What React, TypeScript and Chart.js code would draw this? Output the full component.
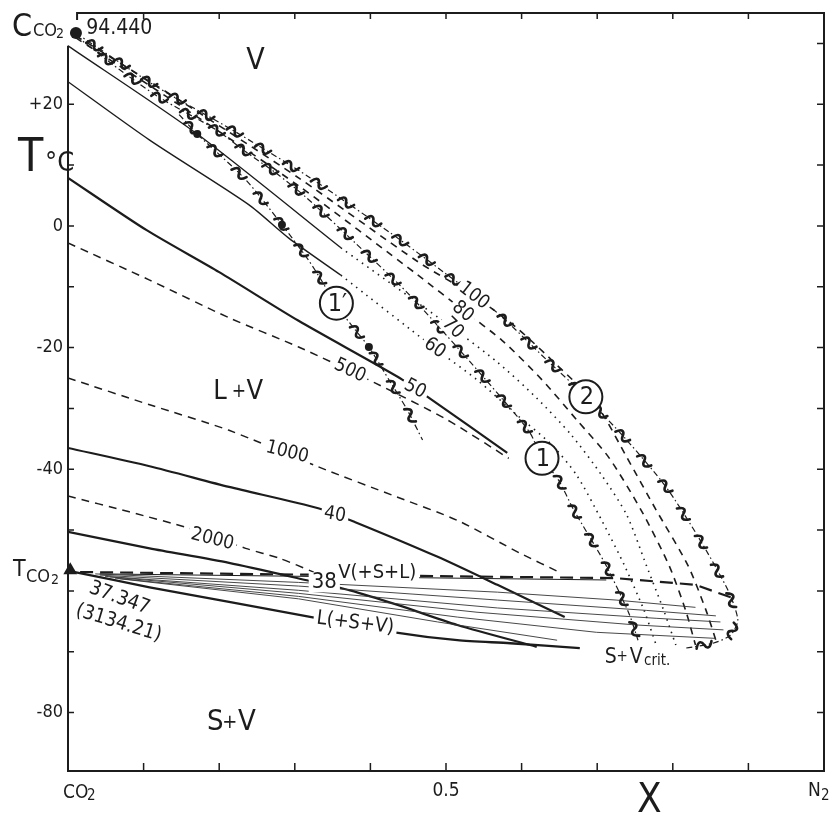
import React, { useEffect, useRef } from "react";
import { Chart, registerables } from "chart.js";
Chart.register(...registerables);

type P = [number, number];

// ---- axes ----
const X_MIN = 0;
const X_MAX = 1;
const T_MIN = -89.6;
const T_MAX = 35;
const yTickValues = [30, 20, 10, 0, -10, -20, -30, -40, -50, -60, -70, -80];
const yLabelValues = [20, 0, -20, -40, -80];
const yLabelTexts = ["+20", "0", "-20", "-40", "-80"];
const xTickValues = [0.1, 0.2, 0.3, 0.4, 0.5, 0.6, 0.7, 0.8, 0.9];

// ---- curves (X mole fraction N2, T in °C) ----
const curve2: P[] = [[0.0105, 31.7], [0.117, 22.9], [0.217, 15.8], [0.318, 8.1], [0.427, -1.2], [0.498, -7.7], [0.568, -14.3], [0.633, -22.0], [0.685, -28.1], [0.739, -35.2], [0.791, -42.9], [0.834, -51.2], [0.873, -59.9], [0.886, -64.8], [0.876, -67.3], [0.853, -68.6], [0.817, -69.4]];
const curve1: P[] = [[0.0105, 31.25], [0.068, 25.7], [0.121, 21.1], [0.196, 15.8], [0.235, 12.2], [0.275, 8.7], [0.314, 4.8], [0.380, -2.8], [0.449, -11.0], [0.518, -20.4], [0.568, -27.5], [0.611, -34.0], [0.627, -38.2], [0.649, -41.8], [0.669, -46.7], [0.710, -55.4], [0.742, -63.7], [0.754, -68.1]];
const curve1p: P[] = [[0.147, 18.3], [0.171, 15.1], [0.235, 7.6], [0.283, 0.2], [0.318, -5.6], [0.335, -8.9], [0.353, -12.7], [0.380, -17.1], [0.398, -19.9], [0.427, -25.8], [0.449, -30.3], [0.469, -35.2]];
const iso100: P[] = [[0.0105, 31.25], [0.147, 20.7], [0.305, 7.9], [0.463, -5.9], [0.537, -11.5], [0.594, -16.8], [0.647, -22.9], [0.699, -29.4], [0.739, -38.0], [0.778, -46.7], [0.820, -55.8], [0.844, -63.2], [0.857, -68.1]];
const iso80: P[] = [[0.0105, 30.9], [0.147, 19.9], [0.305, 6.6], [0.463, -8.1], [0.522, -13.8], [0.574, -18.8], [0.627, -25.3], [0.673, -31.9], [0.715, -38.0], [0.758, -46.7], [0.795, -55.8], [0.817, -63.2], [0.830, -68.9]];
const iso70Solid: P[] = [[0, 29.6], [0.171, 15.1], [0.361, -3.6]];
const iso70Dotted: P[] = [[0.361, -3.6], [0.509, -16.8], [0.568, -22.4], [0.620, -28.3], [0.666, -34.4], [0.706, -41.0], [0.739, -47.5], [0.765, -55.8], [0.788, -63.2], [0.804, -68.9]];
const iso60Solid: P[] = [[0, 23.7], [0.108, 14.1], [0.239, 3.5], [0.292, -2.0], [0.361, -8.1]];
const iso60Dotted: P[] = [[0.361, -8.1], [0.485, -20.1], [0.541, -25.3], [0.594, -31.1], [0.640, -36.0], [0.673, -41.0], [0.706, -48.4], [0.736, -55.8], [0.762, -63.2], [0.778, -68.9]];
const iso50: P[] = [[0, 7.9], [0.104, -0.7], [0.200, -7.6], [0.305, -15.6], [0.436, -24.8], [0.478, -28.3], [0.581, -37.3]];
const iso500: P[] = [[0, -2.8], [0.108, -8.9], [0.213, -15.1], [0.305, -19.9], [0.406, -25.8], [0.502, -31.9], [0.583, -38.2]];
const iso1000: P[] = [[0, -25.0], [0.108, -29.4], [0.213, -33.6], [0.331, -39.6], [0.436, -44.6], [0.515, -48.4], [0.598, -53.8], [0.653, -57.1]];
const iso40: P[] = [[0, -36.5], [0.108, -39.5], [0.213, -42.9], [0.331, -46.4], [0.380, -48.7], [0.489, -54.4], [0.568, -59.0], [0.657, -64.3]];
const iso2000: P[] = [[0, -44.4], [0.081, -47.0], [0.160, -49.7], [0.235, -53.0], [0.279, -54.6], [0.325, -56.9]];
const iso38: P[] = [[0, -50.3], [0.108, -53.0], [0.213, -55.4], [0.314, -58.2], [0.373, -59.9], [0.436, -62.3], [0.515, -65.6], [0.620, -69.2]];
const threePhaseV: P[] = [[0.016, -56.9], [0.725, -57.9], [0.830, -59.0], [0.880, -61.2]];
const threePhaseVThin: P[] = [[0.042, -57.2], [0.712, -58.2]];
const threePhaseL: P[] = [[0.009, -56.9], [0.108, -59.4], [0.213, -61.8], [0.331, -64.5], [0.432, -66.8], [0.515, -68.1], [0.585, -68.6], [0.677, -69.4]];
const tie1: P[] = [[0.036, -57.2], [0.305, -58.6], [0.568, -60.2], [0.725, -61.5], [0.830, -62.7]];
const tie2: P[] = [[0.042, -57.4], [0.305, -59.2], [0.568, -61.5], [0.765, -63.2], [0.857, -64.1]];
const tie3: P[] = [[0.049, -57.6], [0.305, -59.9], [0.568, -62.8], [0.778, -64.5], [0.863, -65.1]];
const tie4: P[] = [[0.055, -57.7], [0.305, -60.4], [0.541, -63.5], [0.752, -65.6], [0.867, -66.4]];
const tie5: P[] = [[0.062, -57.9], [0.305, -60.9], [0.515, -64.3], [0.699, -66.8], [0.857, -67.8]];
const tie6: P[] = [[0.068, -58.0], [0.305, -61.3], [0.489, -65.1], [0.647, -68.1]];
const criticalPoint: P[] = [[0.0105, 31.7]];
const triplePoint: P[] = [[0.003, -56.6]];
const experimentPoints: P[] = [[0.171, 15.1], [0.283, 0.2], [0.398, -19.9]];

const INK = "#1c1c1c";
const FONT = '"DejaVu Sans Condensed","Liberation Sans Narrow","DejaVu Sans",sans-serif';

type Lbl = { t: string; x: number; y: number; s: number; r: number; bg: boolean };
const curveLabels: Lbl[] = [
  { t: "100", x: 0.537, y: -11.5, s: 19, r: 38, bg: true },
  { t: "80", x: 0.522, y: -14.1, s: 19, r: 40, bg: true },
  { t: "70", x: 0.509, y: -16.8, s: 19, r: 45, bg: true },
  { t: "60", x: 0.485, y: -20.1, s: 19, r: 35, bg: true },
  { t: "500", x: 0.373, y: -23.8, s: 19, r: 25, bg: true },
  { t: "50", x: 0.459, y: -26.8, s: 19, r: 28, bg: true },
  { t: "1000", x: 0.290, y: -37.2, s: 19, r: 14, bg: true },
  { t: "40", x: 0.353, y: -47.5, s: 19, r: 10, bg: true },
  { t: "2000", x: 0.191, y: -51.5, s: 19, r: 14, bg: true },
  { t: "38", x: 0.339, y: -58.6, s: 22, r: 0, bg: true },
  { t: "V(+S+L)", x: 0.409, y: -57.1, s: 20, r: 0, bg: true },
  { t: "L(+S+V)", x: 0.380, y: -65.3, s: 20, r: 7, bg: true },
  { t: "37.347", x: 0.068, y: -61.2, s: 20, r: 20, bg: false },
  { t: "(3134.21)", x: 0.067, y: -65.3, s: 20, r: 17, bg: false },
];
const circleLabels = [
  { t: "1\u2032", x: 0.355, y: -12.7 },
  { t: "1", x: 0.627, y: -38.2 },
  { t: "2", x: 0.685, y: -28.1 },
];

function tilde(ctx: CanvasRenderingContext2D, x: number, y: number, a: number) {
  ctx.save();
  ctx.translate(x, y);
  ctx.rotate(a);
  ctx.beginPath();
  ctx.moveTo(-8, 2.5);
  ctx.bezierCurveTo(-5, -6, -1.5, -3.5, 0, 0);
  ctx.bezierCurveTo(1.5, 3.5, 5, 6, 8, -2.5);
  ctx.lineWidth = 2.6;
  ctx.lineCap = "round";
  ctx.strokeStyle = INK;
  ctx.stroke();
  ctx.restore();
}

function drawTildes(ctx: CanvasRenderingContext2D, pts: { x: number; y: number }[], offset: number, spacing: number) {
  let next = offset;
  let travelled = 0;
  for (let i = 0; i < pts.length - 1; i++) {
    const a = pts[i], b = pts[i + 1];
    const L = Math.hypot(b.x - a.x, b.y - a.y);
    const ang = Math.atan2(b.y - a.y, b.x - a.x);
    while (next <= travelled + L) {
      const t = (next - travelled) / L;
      tilde(ctx, a.x + (b.x - a.x) * t, a.y + (b.y - a.y) * t, ang);
      next += spacing;
    }
    travelled += L;
  }
}

function text(ctx: CanvasRenderingContext2D, s: string, x: number, y: number, size: number, opt: { r?: number; bg?: boolean; align?: CanvasTextAlign; base?: CanvasTextBaseline } = {}) {
  ctx.save();
  ctx.translate(x, y);
  if (opt.r) ctx.rotate((opt.r * Math.PI) / 180);
  ctx.font = `${size}px ${FONT}`;
  ctx.textAlign = opt.align || "center";
  ctx.textBaseline = opt.base || "middle";
  if (opt.bg) {
    const w = ctx.measureText(s).width;
    ctx.fillStyle = "#fff";
    ctx.fillRect(-w / 2 - 3, -size * 0.45, w + 6, size * 0.9);
  }
  ctx.fillStyle = INK;
  ctx.fillText(s, 0, 0);
  ctx.restore();
}

const decor = {
  id: "decor",
  beforeDraw(chart: any) {
    const ctx = chart.ctx;
    ctx.save();
    ctx.fillStyle = "#fff";
    ctx.fillRect(0, 0, chart.width, chart.height);
    ctx.restore();
  },
  afterDatasetsDraw(chart: any) {
    const ctx: CanvasRenderingContext2D = chart.ctx;
    const xs = chart.scales.x, ys = chart.scales.y;
    const px = (v: number) => xs.getPixelForValue(v);
    const py = (v: number) => ys.getPixelForValue(v);
    chart.data.datasets.forEach((ds: any, i: number) => {
      if (!ds.wavy) return;
      const pts = chart.getDatasetMeta(i).data.map((p: any) => ({ x: p.x, y: p.y }));
      drawTildes(ctx, pts, ds.wavyOffset, 33);
    });
    for (const l of curveLabels) text(ctx, l.t, px(l.x), py(l.y), l.s, { r: l.r, bg: l.bg });
    for (const c of circleLabels) {
      const cx = px(c.x), cy = py(c.y);
      ctx.save();
      ctx.beginPath();
      ctx.arc(cx, cy, 16.5, 0, Math.PI * 2);
      ctx.fillStyle = "#fff";
      ctx.fill();
      ctx.lineWidth = 2;
      ctx.strokeStyle = INK;
      ctx.stroke();
      ctx.restore();
      text(ctx, c.t, cx + 1, cy + 1, 25);
    }
    // phase region labels
    text(ctx, "V", px(0.248), py(27.1), 30);
    text(ctx, "L", px(0.192), py(-27.3), 27, { align: "left" });
    text(ctx, "+", px(0.226), py(-27.3), 19);
    text(ctx, "V", px(0.236), py(-27.3), 27, { align: "left" });
    text(ctx, "S", px(0.184), py(-81.6), 29, { align: "left" });
    text(ctx, "+", px(0.214), py(-81.6), 20);
    text(ctx, "V", px(0.225), py(-81.6), 29, { align: "left" });
    text(ctx, "S", px(0.710), py(-70.9), 21, { align: "left" });
    text(ctx, "+", px(0.733), py(-70.9), 15);
    text(ctx, "V", px(0.743), py(-70.9), 21, { align: "left" });
    text(ctx, "crit.", px(0.762), py(-71.5), 15, { align: "left" });
  },
  afterDraw(chart: any) {
    const ctx: CanvasRenderingContext2D = chart.ctx;
    const xs = chart.scales.x, ys = chart.scales.y;
    const px = (v: number) => xs.getPixelForValue(v);
    const py = (v: number) => ys.getPixelForValue(v);
    const { left: L, right: R, top: T, bottom: B } = chart.chartArea;
    ctx.save();
    ctx.strokeStyle = INK;
    ctx.lineWidth = 2;
    ctx.beginPath();
    ctx.moveTo(L, py(29.6));
    ctx.lineTo(L, B);
    ctx.lineTo(R, B);
    ctx.lineTo(R, T);
    ctx.lineTo(px(0.012), T);
    ctx.lineTo(px(0.012), T + 7);
    ctx.stroke();
    ctx.lineWidth = 1.5;
    ctx.beginPath();
    for (const v of xTickValues) {
      ctx.moveTo(px(v), B);
      ctx.lineTo(px(v), B - 8);
      ctx.moveTo(px(v), T);
      ctx.lineTo(px(v), T + 6);
    }
    for (const v of yTickValues) {
      if (v < 29) {
        ctx.moveTo(L, py(v));
        ctx.lineTo(L + 6, py(v));
      }
      ctx.moveTo(R, py(v));
      ctx.lineTo(R - 7, py(v));
    }
    ctx.stroke();
    ctx.restore();
    yLabelValues.forEach((v, i) => text(ctx, yLabelTexts[i], L - 5, py(v), 18, { align: "right" }));
    // axis titles
    text(ctx, "T", L - 50, py(9.1), 46, { align: "left", base: "alphabetic" });
    text(ctx, "°C", L - 23, py(9.1), 27, { align: "left", base: "alphabetic" });
    text(ctx, "C", L - 56, py(31.3), 32, { align: "left", base: "alphabetic" });
    text(ctx, "CO", L - 35, py(31.3), 18, { align: "left", base: "alphabetic" });
    text(ctx, "2", L - 12, py(30.9), 14, { align: "left", base: "alphabetic" });
    text(ctx, "94.440", px(0.024), py(31.5), 21, { align: "left", base: "alphabetic" });
    text(ctx, "T", L - 55, py(-57.6), 23, { align: "left", base: "alphabetic" });
    text(ctx, "CO", L - 42, py(-58.6), 18, { align: "left", base: "alphabetic" });
    text(ctx, "2", L - 17, py(-58.9), 14, { align: "left", base: "alphabetic" });
    const bl = B + 27;
    text(ctx, "CO", px(0) - 5, bl, 19, { align: "left", base: "alphabetic" });
    text(ctx, "2", px(0) + 19, bl + 2, 15, { align: "left", base: "alphabetic" });
    text(ctx, "0.5", px(0.5), bl - 2, 19, { base: "alphabetic" });
    text(ctx, "N", px(1) - 16, bl - 2, 19, { align: "left", base: "alphabetic" });
    text(ctx, "2", px(1) - 3, bl + 2, 15, { align: "left", base: "alphabetic" });
    text(ctx, "X", px(0.769), B + 41, 40, { base: "alphabetic" });
  },
};

export default function App() {
  const ref = useRef<HTMLCanvasElement>(null);
  useEffect(() => {
    const canvas = ref.current!;
    const mk = (data: P[], o: any = {}) => ({
      type: "scatter",
      data: data.map(([x, y]) => ({ x, y })),
      showLine: true,
      pointRadius: 0,
      pointHoverRadius: 0,
      borderColor: INK,
      backgroundColor: INK,
      borderWidth: 1.3,
      tension: 0.25,
      fill: false,
      ...o,
    });
    const thin = { borderWidth: 0.9, tension: 0, borderColor: "#333" };
    const datasets: any[] = [
      mk(tie1, thin), mk(tie2, thin), mk(tie3, thin), mk(tie4, thin), mk(tie5, thin), mk(tie6, thin),
      mk(threePhaseVThin, { borderWidth: 1, tension: 0 }),
      mk(threePhaseV, { borderWidth: 2.2, borderDash: [13, 7], tension: 0 }),
      mk(threePhaseL, { borderWidth: 2.3 }),
      mk(iso38, { borderWidth: 2.2 }),
      mk(iso40, { borderWidth: 2.2 }),
      mk(iso50, { borderWidth: 2.2 }),
      mk(iso2000, { borderWidth: 1.5, borderDash: [8, 6] }),
      mk(iso1000, { borderWidth: 1.5, borderDash: [8, 6] }),
      mk(iso500, { borderWidth: 1.5, borderDash: [8, 6] }),
      mk(iso60Solid, { borderWidth: 1.4 }),
      mk(iso70Solid, { borderWidth: 1.4 }),
      mk(iso60Dotted, { borderWidth: 1.6, borderDash: [1.5, 5] }),
      mk(iso70Dotted, { borderWidth: 1.6, borderDash: [1.5, 5] }),
      mk(iso80, { borderWidth: 1.6, borderDash: [7, 6] }),
      mk(iso100, { borderWidth: 1.6, borderDash: [7, 6] }),
      mk(curve2, { borderWidth: 1.2, borderDash: [6, 3, 1.5, 3], wavy: true, wavyOffset: 22 }),
      mk(curve1, { borderWidth: 1.2, borderDash: [6, 3, 1.5, 3], wavy: true, wavyOffset: 38 }),
      mk(curve1p, { borderWidth: 1.2, borderDash: [6, 3, 1.5, 3], wavy: true, wavyOffset: 18 }),
      mk(experimentPoints, { showLine: false, pointRadius: 4, pointBackgroundColor: INK, pointBorderWidth: 0 }),
      mk(criticalPoint, { showLine: false, pointRadius: 6, pointBackgroundColor: INK, pointBorderWidth: 0, clip: false }),
      mk(triplePoint, { showLine: false, pointRadius: 8, pointStyle: "triangle", pointBackgroundColor: INK, pointBorderWidth: 0, clip: false }),
    ];
    const chart = new Chart(canvas, {
      type: "scatter",
      data: { datasets },
      options: {
        animation: false,
        responsive: false,
        devicePixelRatio: 1,
        events: [],
        layout: { padding: { left: 68, top: 13, right: 3, bottom: 43 } },
        scales: {
          x: { type: "linear", min: X_MIN, max: X_MAX, display: false },
          y: { type: "linear", min: T_MIN, max: T_MAX, display: false },
        },
        plugins: { legend: { display: false }, tooltip: { enabled: false } },
      },
      plugins: [decor],
    } as any);
    return () => chart.destroy();
  }, []);
  return (
    <div style={{ position: "absolute", left: 0, top: 0, width: 832, height: 814, background: "#fff" }}>
      <canvas ref={ref} width={832} height={814} />
    </div>
  );
}
